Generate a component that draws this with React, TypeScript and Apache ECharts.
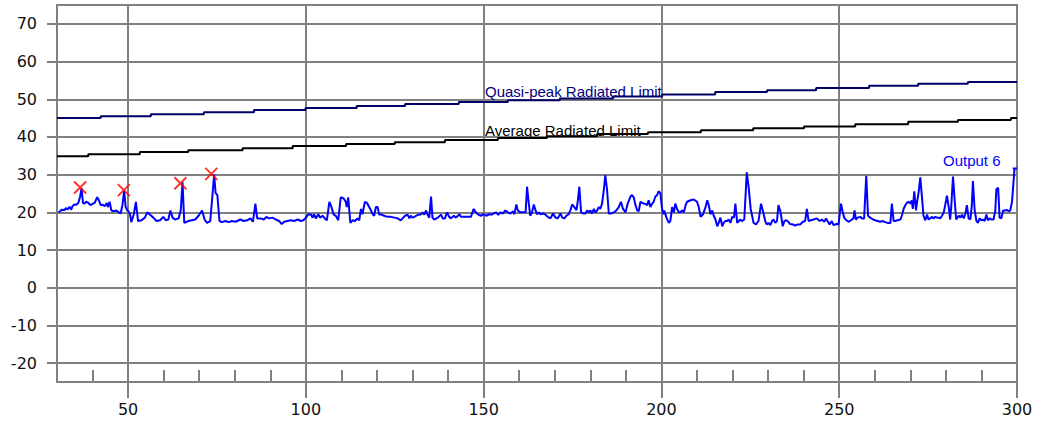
import React, { useEffect, useRef } from "react";
import * as echarts from "echarts";

// ---- axis settings ----
const xMin = 30;
const xMax = 300;
const yMin = -25;
const yMax = 75;
const xMajorTicks = [50, 100, 150, 200, 250, 300];
const xMinorTicks = [40, 60, 70, 80, 90, 110, 120, 130, 140, 160, 170, 180, 190, 210, 220, 230, 240, 260, 270, 280, 290];
const yTicks = [-20, -10, 0, 10, 20, 30, 40, 50, 60, 70];

// ---- limit lines (step start frequency, level) ----
const qpFreq = [30, 42.3, 56.4, 71.3, 85.4, 99.9, 114.3, 127.9, 143.0, 156.8, 171.4, 186.4, 200.2, 215.1, 229.7, 243.5, 258.4, 272.2, 286.2, 300];
const qpLevel = [45.0, 45.5, 46.0, 46.55, 47.15, 47.7, 48.2, 48.75, 49.3, 49.75, 50.2, 50.7, 51.25, 51.9, 52.4, 53.0, 53.55, 54.1, 54.6, 54.6];
const avgFreq = [30, 38.8, 53.3, 66.9, 82.2, 96.3, 111.3, 125.0, 139.1, 154.0, 167.8, 181.9, 196.2, 211.1, 225.8, 240.1, 254.5, 269.4, 283.4, 298.3, 300];
const avgLevel = [34.9, 35.4, 36.0, 36.5, 37.0, 37.6, 38.1, 38.6, 39.2, 39.7, 40.2, 40.8, 41.25, 41.75, 42.3, 42.8, 43.4, 44.0, 44.5, 45.0, 45.0];

// ---- measured trace "Output 6" [MHz, dB] ----
const outputTrace: [number, number][] = [
  [30.4, 20.0], [30.9, 20.3], [31.3, 20.7], [32.1, 20.6], [32.5, 21.1], [33.0, 20.8], [33.5, 21.5], [34.0, 20.7], [34.4, 21.7], [34.9, 22.1],
  [35.4, 22.0], [36.0, 22.5], [36.5, 24.2], [36.9, 26.4], [37.3, 22.5], [37.7, 22.3], [38.2, 22.8], [38.7, 22.6], [39.4, 21.9], [40.1, 22.3],
  [40.6, 22.5], [41.3, 24.0], [41.7, 23.4], [42.3, 21.9], [42.9, 22.0], [43.4, 21.6], [44.0, 22.5], [44.3, 21.4], [44.8, 22.8], [45.3, 20.5],
  [46.0, 20.3], [46.7, 20.5], [47.4, 20.0], [47.9, 19.7], [48.4, 21.9], [48.9, 25.8], [49.3, 21.4], [49.8, 20.5], [50.5, 19.7], [50.9, 17.4],
  [51.6, 19.5], [52.2, 22.8], [52.8, 17.7], [53.8, 17.9], [54.7, 18.6], [55.4, 20.0], [56.1, 19.4], [57.1, 18.6], [58.0, 17.7], [59.0, 17.9],
  [59.9, 18.8], [60.6, 17.9], [61.3, 18.1], [61.9, 20.5], [62.5, 18.6], [63.2, 18.1], [64.2, 18.4], [64.8, 20.5], [65.3, 28.0], [65.8, 17.2],
  [67.0, 17.7], [67.9, 17.9], [68.9, 18.1], [69.8, 19.1], [70.8, 20.5], [71.5, 18.1], [72.2, 17.2], [73.1, 17.7], [73.6, 23.2], [74.2, 30.0],
  [74.6, 25.1], [75.1, 24.6], [75.7, 17.7], [76.4, 17.4], [77.4, 17.7], [78.3, 17.4], [79.2, 17.7], [80.2, 17.5], [81.6, 18.1], [82.5, 17.7],
  [83.5, 17.9], [84.4, 18.4], [85.1, 17.5], [85.8, 22.3], [86.3, 18.4], [87.3, 18.4], [88.2, 18.1], [88.9, 18.8], [89.6, 18.4], [90.6, 18.6],
  [91.5, 18.1], [92.5, 17.7], [93.2, 16.9],
  [93.9, 17.5], [94.8, 17.7], [95.8, 17.9], [96.7, 17.7], [97.7, 18.1], [98.6, 17.7], [99.3, 17.9], [100.0, 18.6], [100.7, 19.5], [101.4, 19.4],
  [101.9, 18.6], [102.3, 19.5], [102.8, 18.4], [103.5, 19.5], [104.0, 18.6], [104.7, 19.1], [105.3, 18.4], [105.9, 17.9], [106.6, 22.8], [107.2, 21.4],
  [107.8, 19.4], [108.4, 19.1], [109.1, 17.9], [109.8, 24.0], [110.6, 23.7], [111.2, 22.8], [111.5, 21.4], [111.9, 24.0], [112.5, 17.2], [113.1, 17.9],
  [113.8, 17.7], [114.5, 18.4], [115.0, 17.9], [115.5, 20.9], [115.9, 19.5], [116.6, 22.8], [117.2, 22.5], [117.8, 21.4], [118.3, 20.5], [118.8, 19.5],
  [119.2, 19.1], [119.7, 21.4], [120.2, 21.4], [120.6, 19.4], [121.3, 19.4], [122.0, 19.1], [123.0, 18.8], [123.9, 18.8], [124.9, 18.6], [125.8, 18.4],
  [126.7, 17.9], [127.2, 18.4], [127.9, 19.1], [128.6, 19.4], [129.1, 18.4], [129.5, 19.1], [130.0, 18.6], [130.5, 18.8], [131.4, 19.3], [132.4, 19.5],
  [132.8, 20.0], [133.3, 19.4], [133.8, 20.5], [134.2, 19.4], [134.7, 18.6], [135.2, 24.2], [135.6, 18.6], [136.1, 18.1], [137.1, 18.6], [138.0, 19.4],
  [138.5, 18.4], [139.1, 18.4], [139.7, 20.0], [140.3, 18.8], [140.8, 18.4], [141.6, 19.1], [142.2, 18.6], [143.2, 19.5], [143.6, 18.8], [144.6, 18.8],
  [145.5, 18.8], [146.4, 18.8], [147.2, 20.9], [147.8, 20.0], [148.5, 19.4], [149.2, 19.1], [150.0, 19.5], [150.7, 19.1], [151.6, 19.5], [152.3, 19.4],
  [152.8, 19.7], [153.5, 20.0], [154.1, 19.3],
  [154.7, 20.0], [155.4, 19.7], [156.1, 20.5], [156.8, 20.0], [157.5, 19.7], [158.3, 20.3], [158.6, 19.5], [159.2, 22.1], [159.6, 20.5], [160.3, 20.0],
  [161.3, 20.0], [161.8, 20.0], [162.2, 26.8], [162.7, 22.3], [163.1, 19.1], [163.6, 20.0], [164.1, 22.1], [164.6, 20.5], [165.0, 19.5], [165.5, 20.0],
  [166.0, 19.5], [166.7, 19.7], [167.4, 19.4], [168.0, 18.8], [168.8, 18.4], [169.5, 19.7], [170.2, 18.6], [170.8, 18.4], [171.6, 19.7], [172.1, 18.6],
  [172.7, 18.4], [173.3, 19.1], [173.9, 19.5], [174.4, 20.6], [174.9, 22.1], [175.5, 21.4], [176.1, 20.6], [176.5, 23.2], [176.9, 26.8], [177.4, 20.0],
  [178.0, 19.7], [178.6, 19.7], [179.1, 20.5], [179.6, 20.0], [180.0, 20.5], [180.5, 19.7], [181.0, 20.9], [181.4, 20.0], [181.9, 20.5], [182.4, 21.4],
  [182.8, 20.9], [183.3, 22.3], [183.8, 26.0], [184.2, 29.9], [184.7, 26.0], [185.2, 19.7], [185.8, 19.7], [186.6, 20.0], [187.3, 20.5], [188.0, 21.4],
  [188.6, 22.8], [189.2, 20.9], [189.9, 20.0], [190.5, 22.3], [191.3, 24.2], [191.7, 24.6], [192.2, 24.0], [192.7, 21.9], [193.2, 20.5], [193.6, 20.3],
  [194.1, 22.8], [194.6, 22.5], [195.0, 22.3], [195.5, 22.3], [196.0, 21.9], [196.4, 23.2], [196.9, 21.4], [197.4, 22.3], [197.8, 22.8], [198.3, 24.2],
  [198.8, 24.6], [199.2, 25.6], [199.7, 25.1], [200.1, 21.4], [200.5, 19.5], [200.8, 20.5], [201.4, 18.6], [202.1, 17.2], [202.5, 17.7], [203.0, 21.4],
  [203.5, 20.0], [203.9, 22.3], [204.4, 20.9], [204.9, 20.0], [205.3, 20.0], [205.8, 20.5], [206.3, 20.0], [206.8, 21.9], [207.2, 22.8], [208.2, 23.2],
  [209.1, 23.4], [210.0, 22.8], [210.5, 21.4], [211.0, 18.8], [211.7, 19.5], [212.4, 21.4], [212.9, 23.2], [213.3, 21.9], [213.8, 19.5], [214.3, 20.5],
  [214.7, 19.1], [215.2, 18.1], [215.7, 16.3], [216.1, 17.2], [216.6, 18.6], [217.1, 16.3], [217.5, 17.2], [218.0, 17.7], [218.5, 17.7], [218.9, 18.1],
  [219.4, 17.2], [219.9, 18.8], [220.4, 18.6], [220.8, 22.3], [221.3, 17.2], [221.8, 17.7],
  [222.1, 18.1], [222.6, 17.7], [223.3, 18.1], [224.0, 30.6], [224.5, 26.9], [225.1, 20.9], [225.9, 17.2], [226.6, 16.8], [227.3, 17.7], [228.0, 22.3],
  [228.5, 20.5], [229.2, 17.7], [229.6, 16.8], [230.1, 17.2], [230.6, 16.6], [231.1, 17.7], [231.5, 18.1], [232.0, 17.2], [232.5, 17.7], [232.9, 21.9],
  [233.4, 20.5], [233.9, 17.7], [234.1, 16.3], [234.6, 17.7], [235.1, 17.9], [235.7, 17.5], [236.2, 16.9], [237.0, 16.8], [237.6, 16.5], [238.3, 16.8],
  [239.0, 16.8], [239.8, 17.5], [240.4, 17.7], [240.9, 20.9], [241.4, 17.7], [242.0, 17.9], [242.8, 18.1], [243.7, 18.4], [244.5, 17.7], [245.1, 18.1],
  [245.8, 17.5], [246.3, 18.4], [246.7, 17.7], [247.3, 16.8], [247.9, 17.7], [248.4, 16.6], [249.2, 16.9], [249.8, 16.8], [250.5, 22.3], [251.0, 20.0],
  [251.4, 18.6], [252.0, 17.9], [252.6, 17.5], [253.3, 17.9], [254.0, 18.4], [254.3, 20.5], [254.7, 18.1], [255.2, 18.6], [255.9, 18.8], [256.4, 18.4],
  [257.0, 18.4], [257.6, 29.7], [258.1, 19.1], [258.7, 18.6], [259.5, 18.1], [260.1, 17.9], [260.8, 17.7], [261.5, 17.5], [262.3, 17.7], [262.9, 17.4],
  [263.6, 17.2], [264.4, 17.2], [264.8, 22.3], [265.3, 17.7], [265.8, 17.7], [266.4, 17.9], [267.2, 18.1], [267.6, 19.1], [268.1, 20.9], [268.6, 21.9],
  [269.0, 22.5], [269.5, 22.8], [270.0, 22.3], [270.4, 23.2], [270.7, 20.9], [271.1, 25.6], [271.6, 20.5], [271.9, 22.8], [272.3, 25.1], [272.8, 29.3],
  [273.3, 23.7], [273.7, 19.1], [274.2, 17.9], [274.7, 19.4], [275.1, 18.1], [275.6, 18.4], [276.1, 18.8], [276.5, 18.4], [277.0, 18.8], [277.5, 18.6],
  [278.0, 18.6], [278.4, 18.4], [278.9, 19.1], [279.4, 20.0], [279.8, 21.9], [280.3, 24.4], [280.8, 21.4], [281.2, 18.1], [281.5, 21.4], [282.0, 29.5],
  [282.5, 22.8], [282.9, 18.1], [283.6, 19.1], [284.1, 18.6], [284.5, 19.4], [285.0, 18.4], [285.5, 19.7], [285.9, 21.9], [286.4, 18.4], [286.9, 18.1],
  [287.3, 21.9], [287.6, 28.3], [288.1, 20.5], [288.6, 17.7], [289.0, 17.2], [289.5, 18.4], [290.0, 17.9], [290.4, 18.1], [290.9, 17.7], [291.4, 19.4],
  [291.8, 17.9], [292.3, 18.4], [292.8, 18.1], [293.4, 18.1], [293.9, 20.5], [294.2, 26.2], [294.7, 26.5], [295.1, 18.6], [295.6, 18.4], [296.1, 20.5],
  [296.7, 20.5], [297.2, 20.6], [297.7, 20.3], [298.1, 20.5], [298.6, 22.8], [299.3, 31.6], [298.8, 31.6], [300, 31.6],
];

// ---- peak markers [MHz, dB] ----
const peakMarkers: [number, number][] = [
  [36.5, 26.6],
  [48.8, 25.9],
  [64.7, 27.7],
  [73.4, 30.2],
];

const qpLabel = "Quasi-peak Radiated Limit";
const avgLabel = "Average Radiated Limit";
const traceLabel = "Output 6";

const GRID = "#808080";
const AXIS_FONT = "DejaVu Sans";

export default function App() {
  const ref = useRef<HTMLDivElement>(null);

  useEffect(() => {
    document.body.style.margin = "0";
    if (!ref.current) return;
    const chart = echarts.init(ref.current, undefined, { renderer: "svg" });

    const qpData = qpFreq.map((f, i) => [f, qpLevel[i]]);
    const avgData = avgFreq.map((f, i) => [f, avgLevel[i]]);

    const option: any = {
      animation: false,
      backgroundColor: "#ffffff",
      grid: {
        left: 57,
        right: 22,
        top: 5,
        bottom: 41,
        show: true,
        borderColor: GRID,
        borderWidth: 2,
        containLabel: false,
        outerBoundsMode: "none",
      },
      xAxis: [
        {
          type: "value",
          min: xMin,
          max: xMax,
          position: "bottom",
          axisLine: { show: true, onZero: false, lineStyle: { color: GRID, width: 2 } },
          axisTick: { show: true, customValues: xMajorTicks, length: 16, lineStyle: { color: GRID, width: 2 } },
          axisLabel: {
            show: true,
            customValues: xMajorTicks,
            margin: 19,
            color: "#111",
            fontFamily: AXIS_FONT,
            fontSize: 16,
            showMaxLabel: true,
            showMinLabel: true,
          },
          splitLine: { show: true, lineStyle: { color: GRID, width: 2 } },
        },
        {
          type: "value",
          min: xMin,
          max: xMax,
          position: "bottom",
          axisLine: { show: false, onZero: false },
          axisTick: { show: true, inside: true, customValues: xMinorTicks, length: 12, lineStyle: { color: GRID, width: 2 } },
          axisLabel: { show: false },
          splitLine: { show: false },
        },
      ],
      yAxis: {
        type: "value",
        min: yMin,
        max: yMax,
        axisLine: { show: true, onZero: false, lineStyle: { color: GRID, width: 2 } },
        axisTick: { show: true, customValues: yTicks, length: 10, lineStyle: { color: GRID, width: 2 } },
        axisLabel: {
          show: true,
          customValues: yTicks,
          margin: 20,
          color: "#111",
          fontFamily: AXIS_FONT,
          fontSize: 16,
        },
        splitLine: { show: true, lineStyle: { color: GRID, width: 2 } },
      },
      series: [
        {
          name: qpLabel,
          type: "line",
          step: "end",
          data: qpData,
          showSymbol: false,
          lineStyle: { color: "#000066", width: 2 },
          itemStyle: { color: "#000066" },
          z: 3,
        },
        {
          name: avgLabel,
          type: "line",
          step: "end",
          data: avgData,
          showSymbol: false,
          lineStyle: { color: "#000000", width: 2 },
          itemStyle: { color: "#000000" },
          z: 3,
        },
        {
          name: traceLabel,
          type: "line",
          data: outputTrace,
          showSymbol: false,
          lineStyle: { color: "#0000ff", width: 2 },
          itemStyle: { color: "#0000ff" },
          z: 4,
        },
        {
          name: "Peaks",
          type: "scatter",
          data: peakMarkers,
          symbol: "path://M0,0L10,10M10,0L0,10",
          symbolSize: 12,
          itemStyle: { color: "rgba(0,0,0,0)", borderColor: "#ff0000", borderWidth: 2 },
          z: 5,
        },
      ],
      graphic: [
        {
          type: "text",
          x: 485,
          y: 91,
          z: 10,
          style: {
            text: qpLabel,
            fill: "#000080",
            font: '15px "Liberation Sans"',
            align: "left",
            verticalAlign: "middle",
          },
        },
        {
          type: "text",
          x: 485,
          y: 130,
          z: 10,
          style: {
            text: avgLabel,
            fill: "#000000",
            font: '15px "Liberation Sans"',
            align: "left",
            verticalAlign: "middle",
          },
        },
        {
          type: "text",
          x: 943,
          y: 160,
          z: 10,
          style: {
            text: traceLabel,
            fill: "#0000ff",
            font: '15px "Liberation Sans"',
            align: "left",
            verticalAlign: "middle",
          },
        },
      ],
    };

    chart.setOption(option);
    return () => chart.dispose();
  }, []);

  return <div ref={ref} style={{ width: 1039, height: 423 }} />;
}
